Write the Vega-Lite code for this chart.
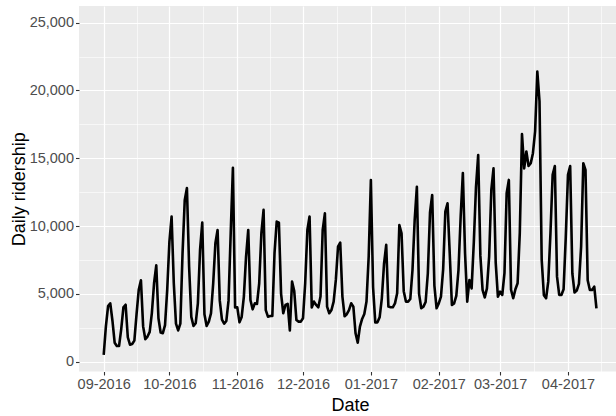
{
  "$schema": "https://vega.github.io/schema/vega-lite/v6.json",
  "width": 537,
  "height": 365.5,
  "autosize": {"type": "none"},
  "padding": {"left": 79, "top": 6, "right": 0, "bottom": 44.5},
  "background": "#FFFFFF",
  "config": {
    "view": {"fill": "#EBEBEB", "stroke": null},
    "axis": {
      "labelFont": "Liberation Sans",
      "titleFont": "Liberation Sans",
      "labelFontSize": 14.5,
      "titleFontSize": 18,
      "titleFontWeight": "normal",
      "labelColor": "#4D4D4D",
      "titleColor": "#000000",
      "tickColor": "#333333",
      "tickSize": 3.5,
      "tickWidth": 1.1,
      "domain": false,
      "grid": true,
      "gridColor": "#FFFFFF",
      "labelOverlap": false,
      "labelFlush": false
    }
  },
  "data": {
    "values": [
      {"date": "2016-09-01", "riders": 500},
      {"date": "2016-09-02", "riders": 2600},
      {"date": "2016-09-03", "riders": 4100},
      {"date": "2016-09-04", "riders": 4300},
      {"date": "2016-09-05", "riders": 3000},
      {"date": "2016-09-06", "riders": 1400},
      {"date": "2016-09-07", "riders": 1150},
      {"date": "2016-09-08", "riders": 1150},
      {"date": "2016-09-09", "riders": 2400},
      {"date": "2016-09-10", "riders": 4000},
      {"date": "2016-09-11", "riders": 4200},
      {"date": "2016-09-12", "riders": 1800},
      {"date": "2016-09-13", "riders": 1250},
      {"date": "2016-09-14", "riders": 1300},
      {"date": "2016-09-15", "riders": 1550},
      {"date": "2016-09-16", "riders": 3500},
      {"date": "2016-09-17", "riders": 5300},
      {"date": "2016-09-18", "riders": 6000},
      {"date": "2016-09-19", "riders": 2600},
      {"date": "2016-09-20", "riders": 1650},
      {"date": "2016-09-21", "riders": 1850},
      {"date": "2016-09-22", "riders": 2200},
      {"date": "2016-09-23", "riders": 3600},
      {"date": "2016-09-24", "riders": 5800},
      {"date": "2016-09-25", "riders": 7100},
      {"date": "2016-09-26", "riders": 3200},
      {"date": "2016-09-27", "riders": 2150},
      {"date": "2016-09-28", "riders": 2100},
      {"date": "2016-09-29", "riders": 2700},
      {"date": "2016-09-30", "riders": 5300},
      {"date": "2016-10-01", "riders": 8850},
      {"date": "2016-10-02", "riders": 10700},
      {"date": "2016-10-03", "riders": 5800},
      {"date": "2016-10-04", "riders": 2800},
      {"date": "2016-10-05", "riders": 2300},
      {"date": "2016-10-06", "riders": 2800},
      {"date": "2016-10-07", "riders": 8000},
      {"date": "2016-10-08", "riders": 11900},
      {"date": "2016-10-09", "riders": 12800},
      {"date": "2016-10-10", "riders": 7000},
      {"date": "2016-10-11", "riders": 3300},
      {"date": "2016-10-12", "riders": 2630},
      {"date": "2016-10-13", "riders": 2830},
      {"date": "2016-10-14", "riders": 4300},
      {"date": "2016-10-15", "riders": 8240},
      {"date": "2016-10-16", "riders": 10250},
      {"date": "2016-10-17", "riders": 3500},
      {"date": "2016-10-18", "riders": 2630},
      {"date": "2016-10-19", "riders": 2950},
      {"date": "2016-10-20", "riders": 3570},
      {"date": "2016-10-21", "riders": 5780},
      {"date": "2016-10-22", "riders": 8730},
      {"date": "2016-10-23", "riders": 9710},
      {"date": "2016-10-24", "riders": 4500},
      {"date": "2016-10-25", "riders": 3100},
      {"date": "2016-10-26", "riders": 2800},
      {"date": "2016-10-27", "riders": 3000},
      {"date": "2016-10-28", "riders": 4500},
      {"date": "2016-10-29", "riders": 9500},
      {"date": "2016-10-30", "riders": 14300},
      {"date": "2016-10-31", "riders": 4000},
      {"date": "2016-11-01", "riders": 4000},
      {"date": "2016-11-02", "riders": 2900},
      {"date": "2016-11-03", "riders": 3300},
      {"date": "2016-11-04", "riders": 4800},
      {"date": "2016-11-05", "riders": 7740},
      {"date": "2016-11-06", "riders": 9710},
      {"date": "2016-11-07", "riders": 4550},
      {"date": "2016-11-08", "riders": 3860},
      {"date": "2016-11-09", "riders": 4300},
      {"date": "2016-11-10", "riders": 4260},
      {"date": "2016-11-11", "riders": 5780},
      {"date": "2016-11-12", "riders": 9470},
      {"date": "2016-11-13", "riders": 11190},
      {"date": "2016-11-14", "riders": 3800},
      {"date": "2016-11-15", "riders": 3320},
      {"date": "2016-11-16", "riders": 3370},
      {"date": "2016-11-17", "riders": 3370},
      {"date": "2016-11-18", "riders": 8000},
      {"date": "2016-11-19", "riders": 10330},
      {"date": "2016-11-20", "riders": 10250},
      {"date": "2016-11-21", "riders": 5000},
      {"date": "2016-11-22", "riders": 3570},
      {"date": "2016-11-23", "riders": 4180},
      {"date": "2016-11-24", "riders": 4260},
      {"date": "2016-11-25", "riders": 2300},
      {"date": "2016-11-26", "riders": 5900},
      {"date": "2016-11-27", "riders": 5200},
      {"date": "2016-11-28", "riders": 3070},
      {"date": "2016-11-29", "riders": 2950},
      {"date": "2016-11-30", "riders": 2950},
      {"date": "2016-12-01", "riders": 3200},
      {"date": "2016-12-02", "riders": 5780},
      {"date": "2016-12-03", "riders": 9710},
      {"date": "2016-12-04", "riders": 10700},
      {"date": "2016-12-05", "riders": 4000},
      {"date": "2016-12-06", "riders": 4430},
      {"date": "2016-12-07", "riders": 4180},
      {"date": "2016-12-08", "riders": 4010},
      {"date": "2016-12-09", "riders": 4800},
      {"date": "2016-12-10", "riders": 9710},
      {"date": "2016-12-11", "riders": 10940},
      {"date": "2016-12-12", "riders": 4060},
      {"date": "2016-12-13", "riders": 3570},
      {"date": "2016-12-14", "riders": 3810},
      {"date": "2016-12-15", "riders": 4430},
      {"date": "2016-12-16", "riders": 6030},
      {"date": "2016-12-17", "riders": 8480},
      {"date": "2016-12-18", "riders": 8780},
      {"date": "2016-12-19", "riders": 4800},
      {"date": "2016-12-20", "riders": 3350},
      {"date": "2016-12-21", "riders": 3500},
      {"date": "2016-12-22", "riders": 3800},
      {"date": "2016-12-23", "riders": 4300},
      {"date": "2016-12-24", "riders": 4060},
      {"date": "2016-12-25", "riders": 2090},
      {"date": "2016-12-26", "riders": 1400},
      {"date": "2016-12-27", "riders": 2580},
      {"date": "2016-12-28", "riders": 3150},
      {"date": "2016-12-29", "riders": 3520},
      {"date": "2016-12-30", "riders": 4430},
      {"date": "2016-12-31", "riders": 7750},
      {"date": "2017-01-01", "riders": 13400},
      {"date": "2017-01-02", "riders": 5500},
      {"date": "2017-01-03", "riders": 2900},
      {"date": "2017-01-04", "riders": 2900},
      {"date": "2017-01-05", "riders": 3270},
      {"date": "2017-01-06", "riders": 4670},
      {"date": "2017-01-07", "riders": 7200},
      {"date": "2017-01-08", "riders": 8610},
      {"date": "2017-01-09", "riders": 4060},
      {"date": "2017-01-10", "riders": 4010},
      {"date": "2017-01-11", "riders": 4010},
      {"date": "2017-01-12", "riders": 4300},
      {"date": "2017-01-13", "riders": 5040},
      {"date": "2017-01-14", "riders": 10080},
      {"date": "2017-01-15", "riders": 9470},
      {"date": "2017-01-16", "riders": 5200},
      {"date": "2017-01-17", "riders": 4430},
      {"date": "2017-01-18", "riders": 4430},
      {"date": "2017-01-19", "riders": 4620},
      {"date": "2017-01-20", "riders": 6760},
      {"date": "2017-01-21", "riders": 10450},
      {"date": "2017-01-22", "riders": 12900},
      {"date": "2017-01-23", "riders": 5000},
      {"date": "2017-01-24", "riders": 3940},
      {"date": "2017-01-25", "riders": 4060},
      {"date": "2017-01-26", "riders": 4400},
      {"date": "2017-01-27", "riders": 6500},
      {"date": "2017-01-28", "riders": 11000},
      {"date": "2017-01-29", "riders": 12290},
      {"date": "2017-01-30", "riders": 5600},
      {"date": "2017-01-31", "riders": 3935},
      {"date": "2017-02-01", "riders": 4300},
      {"date": "2017-02-02", "riders": 4795},
      {"date": "2017-02-03", "riders": 6800},
      {"date": "2017-02-04", "riders": 11070},
      {"date": "2017-02-05", "riders": 11680},
      {"date": "2017-02-06", "riders": 8000},
      {"date": "2017-02-07", "riders": 4180},
      {"date": "2017-02-08", "riders": 4300},
      {"date": "2017-02-09", "riders": 4850},
      {"date": "2017-02-10", "riders": 6760},
      {"date": "2017-02-11", "riders": 10700},
      {"date": "2017-02-12", "riders": 13900},
      {"date": "2017-02-13", "riders": 8000},
      {"date": "2017-02-14", "riders": 4420},
      {"date": "2017-02-15", "riders": 6025},
      {"date": "2017-02-16", "riders": 5400},
      {"date": "2017-02-17", "riders": 8800},
      {"date": "2017-02-18", "riders": 12900},
      {"date": "2017-02-19", "riders": 15240},
      {"date": "2017-02-20", "riders": 7800},
      {"date": "2017-02-21", "riders": 5290},
      {"date": "2017-02-22", "riders": 4740},
      {"date": "2017-02-23", "riders": 5400},
      {"date": "2017-02-24", "riders": 7740},
      {"date": "2017-02-25", "riders": 12660},
      {"date": "2017-02-26", "riders": 14250},
      {"date": "2017-02-27", "riders": 7300},
      {"date": "2017-02-28", "riders": 4795},
      {"date": "2017-03-01", "riders": 5160},
      {"date": "2017-03-02", "riders": 4920},
      {"date": "2017-03-03", "riders": 6520},
      {"date": "2017-03-04", "riders": 12420},
      {"date": "2017-03-05", "riders": 13400},
      {"date": "2017-03-06", "riders": 5300},
      {"date": "2017-03-07", "riders": 4675},
      {"date": "2017-03-08", "riders": 5340},
      {"date": "2017-03-09", "riders": 5780},
      {"date": "2017-03-10", "riders": 9500},
      {"date": "2017-03-11", "riders": 16790},
      {"date": "2017-03-12", "riders": 14250},
      {"date": "2017-03-13", "riders": 15500},
      {"date": "2017-03-14", "riders": 14430},
      {"date": "2017-03-15", "riders": 14630},
      {"date": "2017-03-16", "riders": 15370},
      {"date": "2017-03-17", "riders": 17000},
      {"date": "2017-03-18", "riders": 21390},
      {"date": "2017-03-19", "riders": 19200},
      {"date": "2017-03-20", "riders": 7500},
      {"date": "2017-03-21", "riders": 4900},
      {"date": "2017-03-22", "riders": 4675},
      {"date": "2017-03-23", "riders": 5900},
      {"date": "2017-03-24", "riders": 9470},
      {"date": "2017-03-25", "riders": 13770},
      {"date": "2017-03-26", "riders": 14430},
      {"date": "2017-03-27", "riders": 6270},
      {"date": "2017-03-28", "riders": 4920},
      {"date": "2017-03-29", "riders": 4920},
      {"date": "2017-03-30", "riders": 5340},
      {"date": "2017-03-31", "riders": 9200},
      {"date": "2017-04-01", "riders": 13770},
      {"date": "2017-04-02", "riders": 14430},
      {"date": "2017-04-03", "riders": 6500},
      {"date": "2017-04-04", "riders": 5100},
      {"date": "2017-04-05", "riders": 5240},
      {"date": "2017-04-06", "riders": 5730},
      {"date": "2017-04-07", "riders": 8480},
      {"date": "2017-04-08", "riders": 14630},
      {"date": "2017-04-09", "riders": 14140},
      {"date": "2017-04-10", "riders": 6000},
      {"date": "2017-04-11", "riders": 5290},
      {"date": "2017-04-12", "riders": 5290},
      {"date": "2017-04-13", "riders": 5530},
      {"date": "2017-04-14", "riders": 3935}
    ]
  },
  "mark": {"type": "line", "color": "#000000", "strokeWidth": 2.6, "strokeJoin": "round"},
  "encoding": {
    "x": {
      "field": "date", "type": "temporal",
      "scale": {"type": "utc", "nice": false, "domain": [
        {"year": 2016, "month": 8, "date": 20, "hours": 17, "minutes": 14, "utc": true},
        {"year": 2017, "month": 4, "date": 22, "hours": 22, "minutes": 19, "utc": true}]},
      "axis": {
        "orient": "bottom",
        "labelExpr": "utcdate(datum.value) === 1 ? utcFormat(datum.value, '%m-%Y') : ''",
        "gridWidth": {"condition": {"test": "utcdate(datum.value) !== 1", "value": 0.6}, "value": 1.2},
        "tickOpacity": {"condition": {"test": "utcdate(datum.value) !== 1", "value": 0}, "value": 1},
        "labelPadding": 2.5, "title": "Date", "titlePadding": 5, "titleX": 271, "titleAlign": "center",
        "values": [
          {"year": 2016, "month": 9, "date": 1, "utc": true},
          {"year": 2016, "month": 9, "date": 16, "utc": true},
          {"year": 2016, "month": 10, "date": 1, "utc": true},
          {"year": 2016, "month": 10, "date": 16, "hours": 12, "utc": true},
          {"year": 2016, "month": 11, "date": 1, "utc": true},
          {"year": 2016, "month": 11, "date": 16, "utc": true},
          {"year": 2016, "month": 12, "date": 1, "utc": true},
          {"year": 2016, "month": 12, "date": 16, "hours": 12, "utc": true},
          {"year": 2017, "month": 1, "date": 1, "utc": true},
          {"year": 2017, "month": 1, "date": 16, "hours": 12, "utc": true},
          {"year": 2017, "month": 2, "date": 1, "utc": true},
          {"year": 2017, "month": 2, "date": 15, "utc": true},
          {"year": 2017, "month": 3, "date": 1, "utc": true},
          {"year": 2017, "month": 3, "date": 16, "hours": 12, "utc": true},
          {"year": 2017, "month": 4, "date": 1, "utc": true},
          {"year": 2017, "month": 4, "date": 16, "utc": true}
        ]
      }
    },
    "y": {
      "field": "riders", "type": "quantitative",
      "scale": {"domain": [-725, 26225], "nice": false, "zero": false},
      "axis": {
        "orient": "left",
        "labelExpr": "datum.value % 5000 === 0 ? format(datum.value, ',') : ''",
        "gridWidth": {"condition": {"test": "datum.value % 5000 !== 0", "value": 0.6}, "value": 1.2},
        "tickOpacity": {"condition": {"test": "datum.value % 5000 !== 0", "value": 0}, "value": 1},
        "labelPadding": 2, "title": "Daily ridership", "titlePadding": 1,
        "values": [0, 2500, 5000, 7500, 10000, 12500, 15000, 17500, 20000, 22500, 25000]
      }
    }
  }
}
